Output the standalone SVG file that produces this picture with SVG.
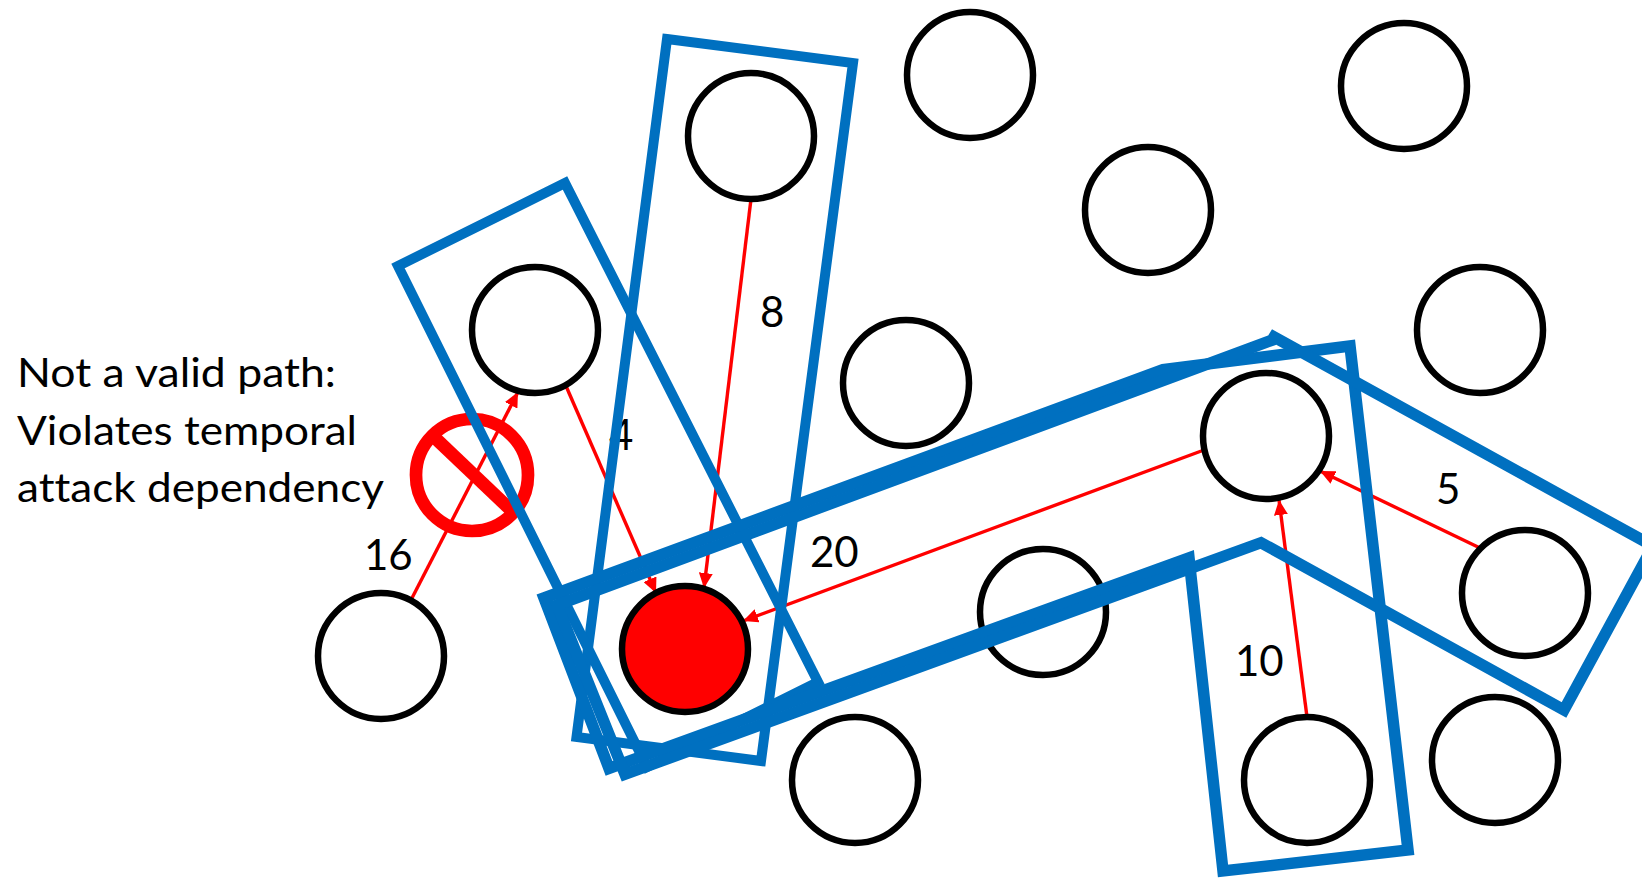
<svg xmlns="http://www.w3.org/2000/svg" width="1642" height="878" viewBox="0 0 1642 878">
<style>
.n{fill:#fff;stroke:#000;stroke-width:6.5}
.t{font-family:Lato,"Liberation Sans",sans-serif;font-size:41px;fill:#000;font-variant-ligatures:none}
.d{font-size:42px}
.c{fill:none;stroke:#f00;stroke-width:3.4;marker-end:url(#a)}
.b{fill:none;stroke:#0070C0;stroke-width:10;stroke-miterlimit:10}
.l{stroke-width:11.5}
</style>
<defs><marker id="a" markerUnits="userSpaceOnUse" markerWidth="16" markerHeight="14" refX="15" refY="7" orient="auto"><path d="M0 0L15 7L0 14Z" fill="#f00"/></marker></defs>
<rect width="1642" height="878" fill="#fff"/>
<g id="prohibited"><circle cx="472" cy="475" r="56" fill="none" stroke="#f00" stroke-width="12.7"/><path d="M432 435L514 513" stroke="#f00" stroke-width="13" fill="none"/></g>
<g id="connectors">
<path class="c" d="M411 600L518 392"/>
<path class="c" d="M566 386L656 593"/>
<path class="c" d="M751 199L704 588"/>
<path class="c" d="M1204 450L743 621"/>
<path class="c" d="M1480 548L1320 471"/>
<path class="c" d="M1307 717L1279 500"/>
</g>
<g id="n1"><circle class="n" cx="970" cy="75" r="63"/></g>
<g id="n2"><circle class="n" cx="1404" cy="86" r="63"/></g>
<g id="n3"><circle class="n" cx="1148" cy="210" r="63"/></g>
<g id="n4"><circle class="n" cx="1480" cy="330" r="63"/></g>
<g id="n5"><circle class="n" cx="751" cy="136" r="63"/></g>
<g id="n6"><circle class="n" cx="535" cy="330" r="63"/></g>
<g id="n7"><circle class="n" cx="906" cy="383" r="63"/></g>
<g id="n8"><circle class="n" cx="1266" cy="436" r="63"/></g>
<g id="n9"><circle class="n" cx="381" cy="656" r="63"/></g>
<g id="n10"><circle class="n" cx="685" cy="649" r="63" style="fill:#f00"/></g>
<g id="n11"><circle class="n" cx="1043" cy="612" r="63"/></g>
<g id="n12"><circle class="n" cx="855" cy="780" r="63"/></g>
<g id="n13"><circle class="n" cx="1307" cy="780" r="63"/></g>
<g id="n14"><circle class="n" cx="1495" cy="760" r="63"/></g>
<g id="n15"><circle class="n" cx="1525" cy="593" r="63"/></g>
<g id="labels">
<text class="t" x="17" y="387" textLength="319" lengthAdjust="spacingAndGlyphs">Not a valid path:</text>
<text class="t" x="17" y="445" textLength="340" lengthAdjust="spacingAndGlyphs">Violates temporal</text>
<text class="t" x="17" y="502" textLength="367" lengthAdjust="spacingAndGlyphs">attack dependency</text>
<text class="t d" x="364" y="570">16</text>
<text class="t d" x="760" y="327">8</text>
<text class="t d" x="609" y="450">4</text>
<text class="t d" x="810" y="567">20</text>
<text class="t d" x="1436" y="504">5</text>
<text class="t d" x="1235" y="676">10</text>
</g>
<g id="boxes">
<path class="b" d="M667 39L853 63L761 761L576.5 737Z"/>
<path class="b" d="M398 266L565 183L818 682L647 767Z"/>
<path class="b l" d="M544 598L1163 369.6L1350 346L1408 850L1223 871L1189 557.8L609 768.3Z"/>
<path class="b l" d="M557 605L1272 340.2L1274 337L1653 546L1564 710L1261 542.7L625 774.2Z"/>
</g>
</svg>
